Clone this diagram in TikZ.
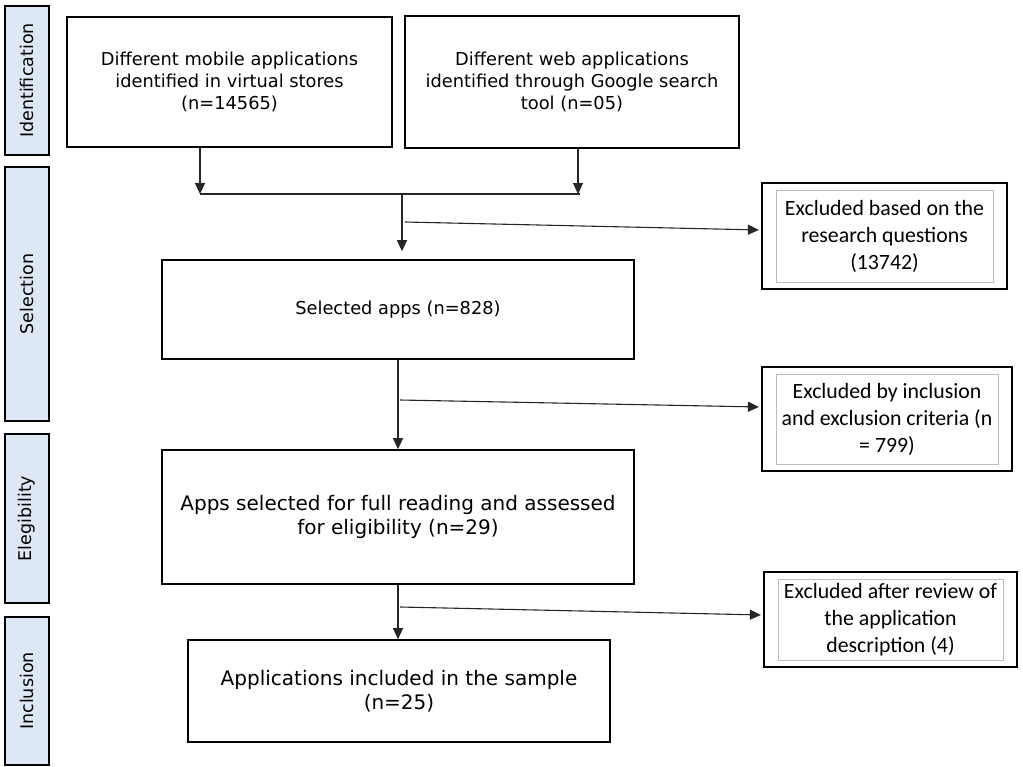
\documentclass[tikz,border=0pt]{standalone}
\usepackage{fontspec}
\setmainfont{DejaVu Sans}
\newfontfamily\calib{Carlito}
\usetikzlibrary{arrows.meta}
\definecolor{stagefill}{RGB}{222,232,245}
\definecolor{innergray}{RGB}{190,190,190}
\begin{document}
\begin{tikzpicture}[x=1pt,y=-1pt,
  stagebox/.style={draw, line width=1.8pt, fill=stagefill, inner sep=0pt, minimum height=44pt, rotate=90, font=\fontsize{17.5}{20}\selectfont},
  mainbox/.style={draw, line width=1.6pt, inner sep=0pt, align=center},
  smalltxt/.style={font=\fontsize{17.8}{22}\selectfont},
  bigtxt/.style={font=\fontsize{20}{24.5}\selectfont},
  exclbox/.style={draw, line width=2.2pt, inner sep=0pt, align=center, font=\calib\fontsize{21.8}{27}\selectfont},
  innerframe/.style={draw=innergray, line width=0.8pt},
  conn/.style={line width=1.1pt, draw=black!85},
  arr/.style={conn, -{Triangle[length=11pt,width=10pt]}}
]
\useasboundingbox (0,0) rectangle (1023,766);
\fill[white] (0,0) rectangle (1023,766);

% stage labels
\node[stagebox, minimum width=149pt] (sid) at (27,80.5) {Identification};
\node[stagebox, minimum width=254pt] (ssel) at (27,294) {Selection};
\node[stagebox, minimum width=169pt] (selig) at (27,518.5) {Elegibility};
\node[stagebox, minimum width=148pt] (sinc) at (27,691) {Inclusion};

% main boxes
\node[mainbox, smalltxt, minimum width=325pt, minimum height=130pt] (b1) at (229.5,82)
  {Different mobile applications\\identified in virtual stores\\(n=14565)};
\node[mainbox, smalltxt, minimum width=334pt, minimum height=132pt] (b2) at (572,82)
  {Different web applications\\identified through Google search\\tool (n=05)};
\node[mainbox, smalltxt, minimum width=472pt, minimum height=99pt] (sel) at (398,309.5)
  {Selected apps (n=828)};
\node[mainbox, bigtxt, minimum width=472pt, minimum height=134pt] (elig) at (398,517)
  {Apps selected for full reading and assessed\\for eligibility (n=29)};
\node[mainbox, bigtxt, minimum width=422pt, minimum height=102pt] (inc) at (399,691)
  {Applications included in the sample\\(n=25)};

% excluded boxes
\node[exclbox, minimum width=245pt, minimum height=106pt] (e1) at (884.5,236)
  {Excluded based on the\\research questions\\(13742)};
\node[exclbox, minimum width=250pt, minimum height=104pt] (e2) at (887,419)
  {Excluded by inclusion\\and exclusion criteria (n\\= 799)};
\node[exclbox, minimum width=253pt, minimum height=95pt] (e3) at (890.5,619.5)
  {Excluded after review of\\the application\\description (4)};
\foreach \e in {e1,e2,e3}{
  \draw[innerframe] ([shift={(15,8)}]\e.north west) rectangle ([shift={(-15,-8)}]\e.south east);
}

% connectors
\coordinate (m1) at (200,194);
\coordinate (m2) at (580,194);
\coordinate (m2a) at (578,194);
\coordinate (mc) at (402,194);
\coordinate (br1) at (405,222);
\coordinate (br2) at (400,400);
\coordinate (br3) at (400,607);

\draw[arr] (b1.south -| m1) -- (m1);
\draw[arr] (b2.south -| m2a) -- (m2a);
\draw[conn] (m1) -- (m2);
\draw[arr, shorten >=8pt] (mc) -- (mc |- sel.north);
\draw[arr, shorten >=2pt] (br1) -- ([yshift=6pt]e1.west);

\draw[arr] (sel.south) -- (elig.north);
\draw[arr, shorten >=2pt] (br2) -- ([yshift=12pt]e2.west);

\draw[arr] (elig.south) -- (elig.south |- inc.north);
\draw[arr, shorten >=2pt] (br3) -- ([yshift=4.5pt]e3.west);
\end{tikzpicture}
\end{document}
